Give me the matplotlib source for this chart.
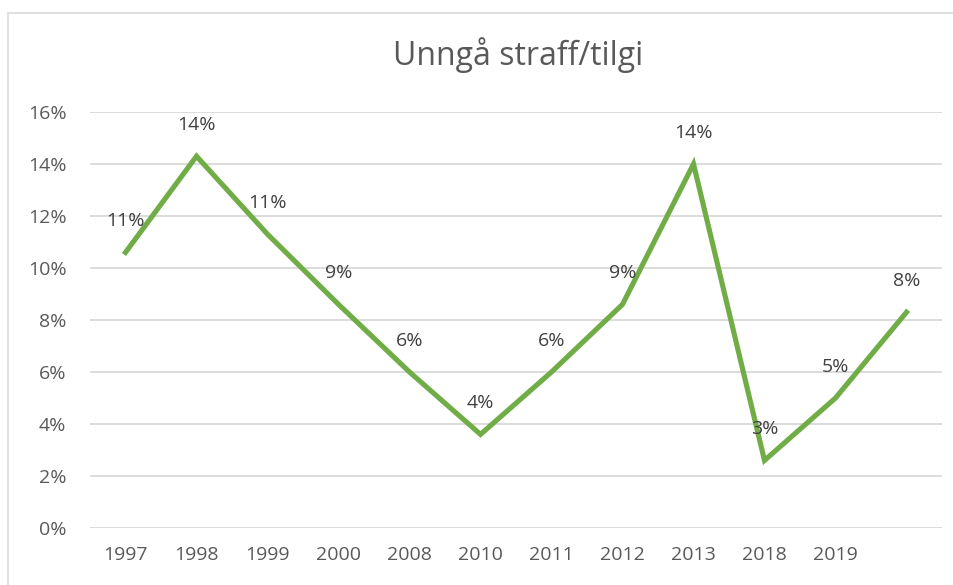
import matplotlib
matplotlib.use("Agg")
import matplotlib.pyplot as plt
from matplotlib.patches import Rectangle

years = ["1997", "1998", "1999", "2000", "2008", "2010", "2011", "2012", "2013", "2018", "2019", ""]
values = [0.106, 0.143, 0.113, 0.086, 0.060, 0.036, 0.060, 0.086, 0.140, 0.026, 0.050, 0.083]
yticks = [0.0, 0.02, 0.04, 0.06, 0.08, 0.10, 0.12, 0.14, 0.16]

plt.rcParams['font.family'] = ['Open Sans', 'DejaVu Sans']

fig = plt.figure(figsize=(9.54, 5.85), dpi=100)
ax = fig.add_axes([90 / 954, 1 - 528 / 585, 852 / 954, 416 / 585])

x = list(range(len(values)))
ax.plot(x, values, color="#70AD47", linewidth=3.7, solid_joinstyle="miter", zorder=3)

for xi, v in zip(x, values):
    ax.annotate(f"{v:.0%}", (xi, v), xytext=(0, 22.5), textcoords="offset points",
                ha="center", va="center", fontsize=14, color="#404040", zorder=4)

ax.set_xlim(-0.5, len(values) - 0.5)
ax.set_ylim(0, 0.16)
ax.set_xticks(x)
ax.set_xticklabels(years)
ax.set_yticks(yticks)
ax.set_yticklabels([f"{t:.0%}" for t in yticks])
ax.tick_params(axis="both", length=0, labelsize=14, colors="#595959")
ax.tick_params(axis="y", pad=17)
ax.tick_params(axis="x", pad=13)
ax.grid(axis="y", color="#d9d9d9", linewidth=1.3)
ax.set_axisbelow(True)
for s in ax.spines.values():
    s.set_visible(False)

fig.text(518 / 954, 1 - 55 / 585, "Unngå straff/tilgi", ha="center", va="center",
         fontsize=23, color="#595959")

fig.patches.append(Rectangle((8 / 954, -0.1), 1.1, 0.1 + 1 - 13 / 585, transform=fig.transFigure,
                             fill=False, edgecolor="#d9d9d9", linewidth=1.2))

fig.savefig("out.png", dpi=100)
